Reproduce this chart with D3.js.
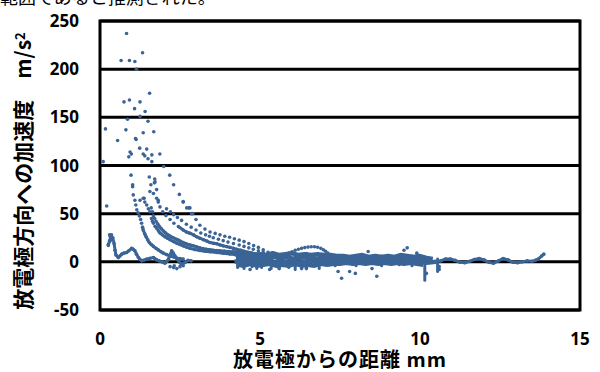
<!DOCTYPE html>
<html>
<head>
<meta charset="utf-8">
<script src="https://cdn.jsdelivr.net/npm/d3@7"></script>
<style>
  body { margin: 0; background: #fff; }
  svg { display: block; }
</style>
</head>
<body>
<svg id="chart" width="600" height="372"></svg>
<script>
// tick values
var xTicks = [0, 5, 10, 15];
var yTicks = [-50, 0, 50, 100, 150, 200, 250];

// scattered high points near the electrode  [mm, m/s2]
var highPoints = [[0.83,237],[1.33,217],[0.66,209],[0.92,209],[1.09,208],[1.14,200],
  [1.55,175],[0.75,166],[0.92,168],[1.25,166],[1.08,159],[1.41,156],[1.25,151],[0.86,148],[1.5,146],
  [0.17,138],[0.81,137],[1.68,135],[1.35,134],[1.13,127],[0.55,126],[1.11,128],
  [1.24,118],[1.46,117],[0.94,114],[0.98,112],[1.35,112],[1.87,112],[1.62,111],[0.9,109],[1.4,110],
  [1.5,107],[1.62,104],[0.1,104],[1.99,99],[0.97,90],[1.54,88],[2.18,90],[1.71,86],[1.72,83],
  [1.02,80],[1.59,80],[2.3,80],[0.21,58],[1.38,66],[1.56,73],[1.67,71],[1.77,66],[1.82,62],
  [2.6,62.5],[2.78,56],[2.9,50]];

// decaying trajectories
var curve1 = [[2.48,70],[2.6,62],[2.71,56],[2.81,56],[2.86,50],[3.0,44],[3.12,38],[3.28,34],
  [3.44,31],[3.6,29.5],[3.75,28],[3.9,26.5],[4.05,25.5],[4.2,24],[4.35,22.5],[4.5,21],[4.65,19],
  [4.8,17],[4.95,15],[5.1,12.5],[5.25,10],[5.4,8]];
var curve1b = [[2.08,55],[2.2,52],[2.3,49],[2.42,46],[2.55,43],[2.7,39],[2.85,36],[3.0,33],[3.15,30],
  [3.3,28],[3.42,26.5],[3.54,25],[3.7,23.5],[3.85,22],[4.0,20.5],[4.17,19],[4.35,17.5],[4.5,16],
  [4.65,14.5],[4.79,13],[4.95,11.5],[5.1,10],[5.3,8]];
var curve2 = [[1.7,82],[1.77,75],[1.82,64],[1.875,57],[1.96,52],[2.06,48],[2.19,44],[2.31,40],
  [2.45,36.6],[2.6,33],[2.7,31],[2.81,29.7],[2.92,28],[3.02,26],[3.12,24.5],[3.23,23],[3.34,21.5],
  [3.44,20],[3.55,19.3],[3.65,18.7],[3.75,17.6],[3.85,16.6],[3.96,15.8],[4.06,15],[4.17,14],
  [4.27,13],[4.4,12],[4.5,11],[4.62,10],[4.75,9],[4.88,8],[5.0,7]];
var curve3 = [[1.02,78],[1.04,69.5],[1.09,64],[1.12,59],[1.15,54],[1.19,51],[1.23,47.7],[1.27,44],
  [1.3,40],[1.33,36],[1.35,33],[1.4,29],[1.44,26],[1.49,23],[1.54,20],[1.6,18],[1.67,16],[1.75,14],
  [1.82,12.4],[1.9,10.6],[1.98,9],[2.08,7.5],[2.19,6.2],[2.3,5],[2.4,3.8],[2.5,3.3],[2.6,3]];
var curve4 = [[1.25,64],[1.35,66],[1.4,62],[1.46,59],[1.51,55],[1.56,52],[1.61,45],[1.64,42],[1.67,40],
  [1.72,37],[1.77,35],[1.83,32],[1.875,30],[1.95,28],[2.03,26],[2.11,24.5],[2.19,23],[2.3,21],
  [2.4,19.4],[2.5,18],[2.6,16.6],[2.7,15.3],[2.81,14],[2.96,12.8],[3.12,11.7],[3.28,11],[3.44,10.4],
  [3.65,9.7],[3.85,9],[4.06,8.2],[4.27,7.3],[4.5,6.6],[4.7,6],[4.9,5.5],[5.1,5]];
var curve5 = [[1.6,56],[1.64,52],[1.67,47.7],[1.71,45],[1.75,42],[1.8,39.5],[1.85,37],[1.91,34.5],
  [1.98,32],[2.05,30],[2.12,28],[2.2,26.5],[2.29,25],[2.37,23.7],[2.45,22.5],[2.52,21.2],[2.6,20],
  [2.68,19],[2.75,18],[2.83,17.3],[2.92,16.6],[3.02,15.5],[3.12,14.5],[3.22,13.7],[3.33,13],
  [3.44,12.5],[3.55,12],[3.65,11.7],[3.75,11.4],[3.88,11.1],[4.0,10.8],[4.17,10.4],[4.3,10.2],
  [4.4,10],[4.55,9.5],[4.7,9],[4.85,8.2],[5.0,7.5],[5.15,6.7],[5.3,6]];

// slow particle oscillating close to zero
var lowTrace = [[0.3,28],[0.33,24],[0.26,18],[0.3,21],[0.4,25],[0.44,19],[0.47,12],[0.5,7],[0.57,4.4],
  [0.62,6],[0.68,8],[0.75,9],[0.83,9.7],[0.9,11.5],[0.99,14],[1.04,13],[1.09,11.4],[1.14,8],[1.2,4.5],
  [1.25,2.5],[1.3,1],[1.38,1.8],[1.46,2.8],[1.56,3.6],[1.67,4.5],[1.72,3.2],[1.77,2],[1.85,1],
  [1.93,0],[2.03,-1.4],[2.09,0.5],[2.14,2.8],[2.19,7],[2.24,11.4],[2.29,9],[2.34,6.2],[2.4,3.5],
  [2.45,1],[2.5,-1],[2.55,-2.4],[2.6,-1.5],[2.66,-0.7],[2.75,1.5],[2.85,1]];
var lowDots = [[0.36,28],[0.26,17],[0.3,22],[2.19,-5],[2.3,-6],[2.4,-7],[2.5,-5],[2.6,-4],[2.32,-4]];

// dense band of slow particles far from the electrode
var bandTop = [[4.2,8],[4.4,7],[4.6,9],[4.8,7],[5.0,8],[5.2,7],[5.4,9],[5.6,7],[5.8,8],[6.0,9],
  [6.2,7],[6.4,8],[6.6,7],[6.8,8],[7.0,7],[7.2,7],[7.4,6],[7.6,6],[7.8,5],[8.0,6],[8.2,7],[8.4,5],
  [8.6,6],[8.8,5],[9.0,6],[9.2,5],[9.4,7],[9.6,6],[9.8,5],[10.0,6],[10.2,4],[10.4,3]];
var bandMid = [[4.25,4],[4.45,5],[4.65,3],[4.85,5],[5.05,4],[5.25,3],[5.45,5],[5.65,4],[5.85,5],
  [6.05,3],[6.25,4],[6.45,5],[6.65,4],[6.85,3],[7.05,4],[7.25,3],[7.45,4],[7.65,3],[7.85,2],[8.05,3],
  [8.25,4],[8.45,2],[8.65,3],[8.85,2],[9.05,3],[9.25,2],[9.45,4],[9.65,3],[9.85,2],[10.05,3],[10.3,1]];
var bandZero = [[4.2,0],[4.4,1],[4.6,-1],[4.8,1],[5.0,0],[5.2,1],[5.4,-1],[5.6,1],[5.8,0],[6.0,1],
  [6.2,-1],[6.4,0],[6.6,1],[6.8,-1],[7.0,0],[7.2,1],[7.4,0],[7.6,0],[7.8,-1],[8.0,0],[8.2,1],[8.4,0],
  [8.6,-1],[8.8,0],[9.0,1],[9.2,0],[9.4,-1],[9.6,0],[9.8,1],[10.0,0],[10.2,-1],[10.5,0]];
var bandLow = [[4.3,-3],[4.5,-4],[4.7,-2],[4.9,-4],[5.1,-3],[5.3,-2],[5.5,-4],[5.7,-3],[5.9,-4],
  [6.1,-2],[6.3,-4],[6.5,-3],[6.7,-4],[6.9,-2],[7.1,-3],[7.3,-2],[7.5,-2],[7.7,-1],[7.9,-2],[8.1,-1],
  [8.3,-2],[8.5,-1],[8.7,-2],[8.9,-1],[9.1,-2],[9.3,-1],[9.5,-2],[9.7,-1],[9.9,-2],[10.1,-3]];
var spikes = [[4.3,-6,8],[4.5,-7,7],[4.75,-5,9],[4.9,-7,7],[5.05,-6,9],[5.35,-7,9],[5.6,-7,7],
  [5.9,-6,9],[6.1,-8,8],[6.45,-6,9],[6.85,-7,7],[7.35,-4,6],[8.0,-4,6],[8.8,-4,6],[9.35,-3,7],
  [9.75,-4,6],[10.15,-19,4],[10.55,-10,3]];
var hump = [[5.9,9],[6.0,10.5],[6.1,12],[6.2,13],[6.3,14],[6.4,14.8],[6.5,15.3],[6.6,15.6],[6.7,15.6],
  [6.8,15.2],[6.9,14],[6.98,12.5],[7.05,11],[7.12,9]];
var wave = [[10.5,0],[10.65,1],[10.8,3],[10.95,3],[11.1,1.5],[11.25,-0.5],[11.4,-1],[11.55,0.5],
  [11.7,2.5],[11.85,3.5],[12.0,2],[12.15,-0.5],[12.3,-1.5],[12.45,1],[12.6,3.5],[12.75,2],[12.9,-0.5],
  [13.05,-1],[13.2,0],[13.35,1],[13.5,0.5],[13.6,1.5],[13.7,3],[13.8,6],[13.87,8]];
var outliers = [[4.69,-8],[6.3,-7],[6.45,-7],[7.44,-10],[7.55,-17],[7.8,-10],[7.98,-12],[8.5,-7],
  [8.65,-15],[8.38,10.7],[9.5,12],[9.6,14.5],[9.9,9],[10.2,-12],[10.6,-8],[10.6,-5],[5.3,-8],[5.6,-7]];

var dotColor = "#3b6496";
var margin = { top: 21, right: 20, bottom: 62, left: 100 };
var width = 600 - margin.left - margin.right;
var height = 372 - margin.top - margin.bottom;

var svg = d3.select("#chart");

// cut-off line of body text above the chart
svg.append("text")
  .attr("x", 0).attr("y", 4)
  .style("font-family", "'Noto Sans CJK JP'")
  .style("font-size", "18px")
  .text("範囲であると推測された。");

var x = d3.scaleLinear().domain([0, 15]).range([0, width]);
var y = d3.scaleLinear().domain([-50, 250]).range([height, 0]);

var g = svg.append("g")
  .attr("transform", "translate(" + margin.left + "," + margin.top + ")");

// horizontal gridlines
g.selectAll("line.grid")
  .data(yTicks)
  .enter().append("line")
  .attr("class", "grid")
  .attr("x1", 0).attr("x2", width)
  .attr("y1", function(d) { return y(d); })
  .attr("y2", function(d) { return y(d); })
  .attr("stroke", "#000")
  .attr("stroke-width", 3);

// plot border
g.append("rect")
  .attr("width", width).attr("height", height)
  .attr("fill", "none")
  .attr("stroke", "#000")
  .attr("stroke-width", 3);

var line = d3.line()
  .x(function(d) { return x(d[0]); })
  .y(function(d) { return y(d[1]); });

// dense traces look like solid lines; curves only where the points crowd together
var lowParts = [curve2, curve3, curve4, curve5].map(function(s) {
  return s.filter(function(d) { return d[1] < 40; });
});
[lowTrace, wave].concat(lowParts).forEach(function(s) {
  g.append("path")
    .datum(s)
    .attr("d", line)
    .attr("fill", "none")
    .attr("stroke", dotColor)
    .attr("stroke-width", 3)
    .attr("stroke-linejoin", "round");
});
[bandTop, bandMid, bandZero, bandLow].forEach(function(s) {
  g.append("path")
    .datum(s)
    .attr("d", line)
    .attr("fill", "none")
    .attr("stroke", dotColor)
    .attr("stroke-width", 4.5)
    .attr("stroke-linejoin", "round");
});

g.selectAll("line.spike")
  .data(spikes)
  .enter().append("line")
  .attr("class", "spike")
  .attr("x1", function(d) { return x(d[0]); })
  .attr("x2", function(d) { return x(d[0]); })
  .attr("y1", function(d) { return y(d[1]); })
  .attr("y2", function(d) { return y(d[2]); })
  .attr("stroke", dotColor)
  .attr("stroke-width", 3)
  .attr("stroke-linecap", "round");

var allPoints = [].concat(highPoints, curve1, curve1b, curve2, curve3, curve4, curve5,
  lowTrace, lowDots, hump, wave, outliers);

g.selectAll("circle")
  .data(allPoints)
  .enter().append("circle")
  .attr("cx", function(d) { return x(d[0]); })
  .attr("cy", function(d) { return y(d[1]); })
  .attr("r", 1.8)
  .attr("fill", dotColor);

// tick labels
var tickFont = "'Noto Sans', sans-serif";
g.selectAll("text.ylab")
  .data(yTicks)
  .enter().append("text")
  .attr("class", "ylab")
  .attr("x", -21)
  .attr("y", function(d) { return y(d); })
  .attr("dy", "0.36em")
  .attr("text-anchor", "end")
  .style("font-family", tickFont)
  .style("font-weight", "bold")
  .style("font-size", "17px")
  .text(function(d) { return d; });

g.selectAll("text.xlab")
  .data(xTicks)
  .enter().append("text")
  .attr("class", "xlab")
  .attr("x", function(d) { return x(d); })
  .attr("y", height + 35)
  .attr("text-anchor", "middle")
  .style("font-family", tickFont)
  .style("font-weight", "bold")
  .style("font-size", "17px")
  .text(function(d) { return d; });

// axis titles
var titleFont = "'Noto Sans CJK JP', sans-serif";
svg.append("text")
  .attr("x", margin.left + width / 2)
  .attr("y", 367)
  .attr("text-anchor", "middle")
  .style("font-family", titleFont)
  .style("font-weight", "bold")
  .style("font-size", "20px")
  .style("letter-spacing", "1px")
  .text("放電極からの距離 mm");

var yt = svg.append("text")
  .attr("transform", "translate(31,171) rotate(-90)")
  .attr("text-anchor", "middle")
  .style("font-family", titleFont)
  .style("font-weight", "bold")
  .style("font-size", "21px");
yt.append("tspan").text("放電極方向への加速度　m/s");
yt.append("tspan").attr("dy", "-0.45em").style("font-size", "13px").text("2");
</script>
</body>
</html>
